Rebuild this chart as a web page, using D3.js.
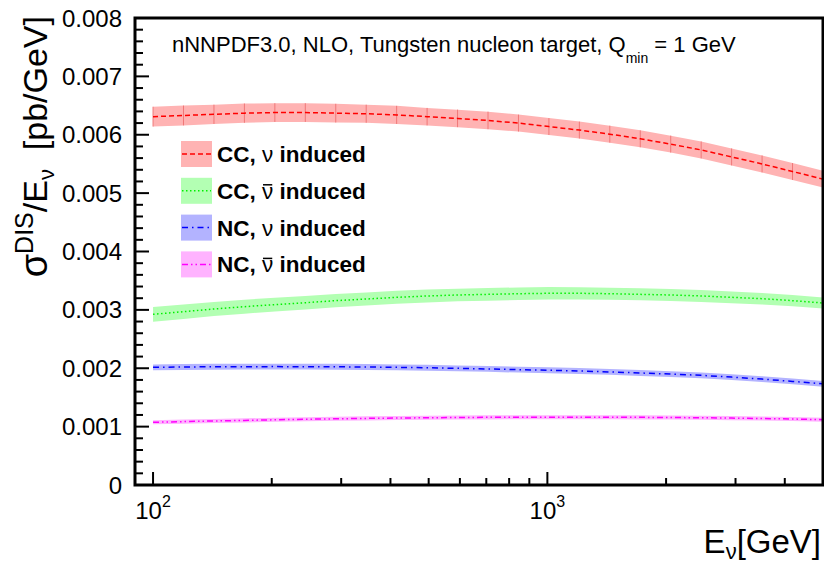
<!DOCTYPE html>
<html>
<head>
<meta charset="utf-8">
<script src="https://cdn.jsdelivr.net/npm/d3@7"></script>
<style>
  body { margin: 0; background: #fff; }
  svg { display: block; font-family: "Liberation Sans", Arial, sans-serif; }
</style>
</head>
<body>
<svg id="chart" width="824" height="563"></svg>
<script>
// neutrino energies [GeV]
var energies = [100, 119.46, 142.71, 170.48, 203.65, 243.28, 290.63, 347.18, 414.75, 495.45,
  591.87, 707.05, 844.64, 1009.0, 1205.4, 1439.9, 1720.1, 2054.9, 2454.8, 2932.4, 3503.1, 4184.8, 5000];

// sigma/E in units of 1e-3 pb/GeV
var ccNu = [6.31, 6.33, 6.35, 6.37, 6.38, 6.38, 6.37, 6.36, 6.34, 6.31, 6.28, 6.245,
  6.20, 6.14, 6.08, 6.01, 5.93, 5.84, 5.74, 5.62, 5.50, 5.37, 5.24];
var ccNuErr = [0.17, 0.17, 0.165, 0.165, 0.16, 0.16, 0.16, 0.155, 0.155, 0.15, 0.15, 0.15,
  0.145, 0.145, 0.145, 0.145, 0.145, 0.145, 0.145, 0.145, 0.145, 0.145, 0.145];

var ccNubar = [2.924, 2.969, 3.015, 3.055, 3.089, 3.123, 3.158, 3.186, 3.215, 3.238, 3.255, 3.266,
  3.277, 3.284, 3.284, 3.277, 3.266, 3.255, 3.238, 3.215, 3.192, 3.158, 3.118];
var ccNubarErr = [0.126, 0.124, 0.122, 0.12, 0.118, 0.116, 0.114, 0.112, 0.111, 0.11, 0.109, 0.108,
  0.107, 0.106, 0.105, 0.104, 0.103, 0.102, 0.101, 0.1, 0.098, 0.096, 0.094];

var ncNu = [2.016, 2.022, 2.025, 2.027, 2.028, 2.027, 2.025, 2.021, 2.016, 2.008, 1.999, 1.988,
  1.976, 1.965, 1.953, 1.937, 1.919, 1.900, 1.879, 1.848, 1.814, 1.775, 1.733];
var ncNuErr = [0.05, 0.05, 0.05, 0.05, 0.05, 0.05, 0.05, 0.05, 0.05, 0.05, 0.05, 0.05,
  0.05, 0.05, 0.05, 0.05, 0.05, 0.05, 0.05, 0.05, 0.05, 0.05, 0.05];

var ncNubar = [1.074, 1.086, 1.097, 1.107, 1.117, 1.126, 1.134, 1.141, 1.147, 1.152, 1.156, 1.159,
  1.161, 1.162, 1.162, 1.161, 1.159, 1.156, 1.152, 1.146, 1.139, 1.130, 1.119];
var ncNubarErr = [0.035, 0.035, 0.035, 0.035, 0.035, 0.035, 0.035, 0.035, 0.035, 0.035, 0.035, 0.035,
  0.035, 0.035, 0.035, 0.035, 0.035, 0.035, 0.035, 0.035, 0.035, 0.035, 0.035];

var yTicks = [0, 0.001, 0.002, 0.003, 0.004, 0.005, 0.006, 0.007, 0.008];
var xMajor = [100, 1000];

var series = [
  {label: "CC, ", bar: false, y: ccNu, err: ccNuErr, line: "#ff0000", fill: "#ffb3b3", dash: "5,3", seams: true},
  {label: "CC, ", bar: true, y: ccNubar, err: ccNubarErr, line: "#00f000", fill: "#b3ffb3", dash: "1.5,2.5"},
  {label: "NC, ", bar: false, y: ncNu, err: ncNuErr, line: "#0000ff", fill: "#b3b3ff", dash: "6,4,1.5,4"},
  {label: "NC, ", bar: true, y: ncNubar, err: ncNubarErr, line: "#ff00ff", fill: "#ffb3ff", dash: "6,3,1.5,3,1.5,3"}
];

var svg = d3.select("#chart");
var L = 135, R = 823, T = 18, B = 485;

var x = d3.scaleLog().domain([90, 5000]).range([L, R]);
var y = d3.scaleLinear().domain([0, 0.008]).range([B, T]);

// bands
series.forEach(function(s) {
  var pts = energies.map(function(e, i) { return {e: e, v: s.y[i] * 1e-3, d: s.err[i] * 1e-3}; });
  var area = d3.area()
    .x(function(d) { return x(d.e); })
    .y0(function(d) { return y(d.v - d.d); })
    .y1(function(d) { return y(d.v + d.d); });
  svg.append("path").attr("d", area(pts)).attr("fill", s.fill);
  if (s.seams) {
    svg.selectAll(null).data(pts).enter().append("line")
      .attr("x1", function(d) { return x(d.e); })
      .attr("x2", function(d) { return x(d.e); })
      .attr("y1", function(d) { return y(d.v - d.d); })
      .attr("y2", function(d) { return y(d.v + d.d); })
      .attr("stroke", "#f07878").attr("stroke-width", 1);
  }
  s.pts = pts;
});

// central lines
series.forEach(function(s) {
  var line = d3.line().x(function(d) { return x(d.e); }).y(function(d) { return y(d.v); });
  svg.append("path").attr("d", line(s.pts))
    .attr("fill", "none").attr("stroke", s.line)
    .attr("stroke-width", 1.5).attr("stroke-dasharray", s.dash);
});

// y ticks
var yMinor = d3.range(0, 0.00801, 0.0002);
svg.selectAll(null).data(yMinor).enter().append("line")
  .attr("x1", L).attr("x2", function(d, i) { return i % 5 == 0 ? L + 14 : L + 8; })
  .attr("y1", function(d) { return y(d); }).attr("y2", function(d) { return y(d); })
  .attr("stroke", "#000").attr("stroke-width", 2);

svg.selectAll(null).data(yTicks).enter().append("text")
  .attr("x", 122).attr("y", function(d) { return y(d) + 8.5; })
  .attr("text-anchor", "end").style("font-size", "24px")
  .text(function(d) { return d == 0 ? "0" : d3.format(".3f")(d); });

// x ticks
var xMinor = [];
[100, 1000].forEach(function(dec) {
  for (var k = 1; k <= 9; k++) { if (dec * k > 90 && dec * k < 5000) xMinor.push(dec * k); }
});
svg.selectAll(null).data(xMinor).enter().append("line")
  .attr("x1", function(d) { return x(d); }).attr("x2", function(d) { return x(d); })
  .attr("y1", B).attr("y2", function(d) { return xMajor.indexOf(d) >= 0 ? B - 13 : B - 7; })
  .attr("stroke", "#000").attr("stroke-width", 2);

xMajor.forEach(function(v) {
  var t = svg.append("text").attr("x", x(v)).attr("y", 519)
    .attr("text-anchor", "middle").style("font-size", "24px");
  t.append("tspan").text("10");
  t.append("tspan").attr("dy", -12).style("font-size", "16px").text(Math.round(Math.log10(v)));
});

// frame
svg.append("rect").attr("x", L).attr("y", T).attr("width", R - L).attr("height", B - T)
  .attr("fill", "none").attr("stroke", "#000").attr("stroke-width", 3);

// axis titles
var xt = svg.append("text").attr("x", 821).attr("y", 553).attr("text-anchor", "end").style("font-size", "33px");
xt.append("tspan").text("E");
xt.append("tspan").attr("dy", 6).style("font-size", "22px").text("ν");
xt.append("tspan").attr("dy", -6).text("[GeV]");

var yt = svg.append("text").attr("transform", "translate(47,16) rotate(-90)")
  .attr("text-anchor", "end").style("font-size", "34px");
yt.append("tspan").style("font-size", "38px").text("σ");
yt.append("tspan").attr("dy", -14).style("font-size", "25px").text("DIS");
yt.append("tspan").attr("dy", 14).text("/E");
yt.append("tspan").attr("dy", 7).style("font-size", "22px").text("ν");
yt.append("tspan").attr("dy", -7).text("  [pb/GeV]");
yt.attr("xml:space", "preserve").style("white-space", "pre");

// header
var hd = svg.append("text").attr("x", 172).attr("y", 52).style("font-size", "22px");
hd.append("tspan").text("nNNPDF3.0, NLO, Tungsten nucleon target, Q");
hd.append("tspan").attr("dy", 11).style("font-size", "14px").text("min");
hd.append("tspan").attr("dy", -11).text(" = 1 GeV");

// legend
var lg = svg.append("g");
series.forEach(function(s, i) {
  var cy = 154 + i * 36.8;
  lg.append("rect").attr("x", 181).attr("y", cy - 13).attr("width", 31).attr("height", 26).attr("fill", s.fill);
  lg.append("line").attr("x1", 182).attr("x2", 211).attr("y1", cy).attr("y2", cy)
    .attr("stroke", s.line).attr("stroke-width", 1.5).attr("stroke-dasharray", s.dash);
  var t = lg.append("text").attr("x", 217).attr("y", cy + 8)
    .style("font-size", "22.5px").style("font-weight", "bold").attr("xml:space", "preserve").style("white-space", "pre");
  t.append("tspan").text(s.label);
  t.append("tspan").style("font-weight", "normal").text("ν");
  t.append("tspan").text(" induced");
  if (s.bar) {
    var ext = t.node().getExtentOfChar(s.label.length);
    lg.append("line").attr("x1", ext.x + 1).attr("x2", ext.x + ext.width - 1)
      .attr("y1", cy - 6).attr("y2", cy - 6).attr("stroke", "#000").attr("stroke-width", 1.5);
  }
});
</script>
</body>
</html>
